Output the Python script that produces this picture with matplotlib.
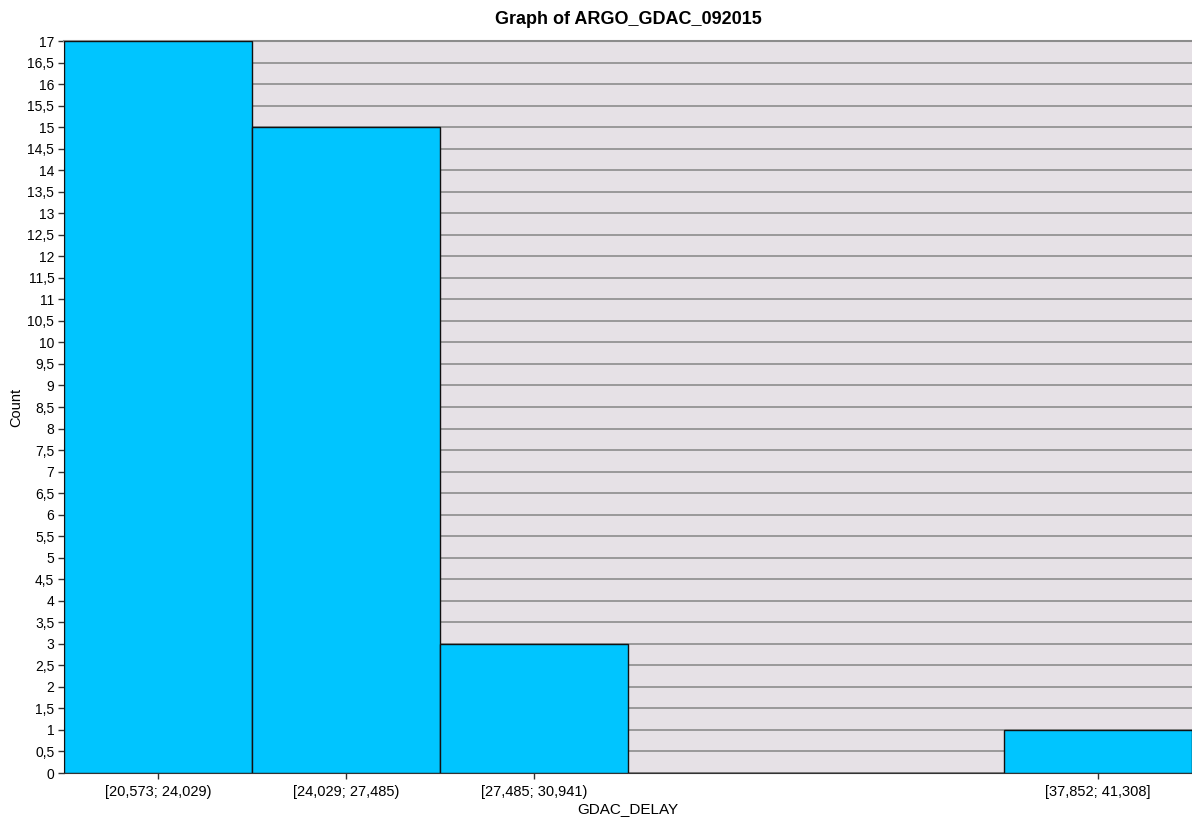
import matplotlib
matplotlib.use("Agg")
import matplotlib.pyplot as plt
import numpy as np

bin_labels = ["[20,573; 24,029)", "[24,029; 27,485)", "[27,485; 30,941)",
              "[30,941; 34,397)", "[34,397; 37,852)", "[37,852; 41,308]"]
counts = [17, 15, 3, 0, 0, 1]
title = "Graph of ARGO_GDAC_092015"
xlabel = "GDAC_DELAY"
ylabel = "Count"

plt.rcParams['font.family'] = ['Liberation Sans', 'DejaVu Sans']

fig = plt.figure(figsize=(11.92, 8.21), dpi=100)
ax = fig.add_axes([64/1192, 1-773/821, 1-64/1192, (773-41)/821])
ax.set_facecolor("#E6E1E6")

x = np.arange(len(counts))
ax.set_axisbelow(True)
ax.yaxis.grid(True, color="#8C8C8C", linewidth=1.2)
ax.bar(x, counts, width=1.0, color="#00C5FF", edgecolor="#111111", linewidth=1.0, zorder=3)

ax.set_xlim(-0.5, len(counts)-0.5)
ax.set_ylim(0, 17)
ax.set_yticks(np.arange(0, 17.01, 0.5))
ax.set_yticklabels([("%g" % v).replace(".", ",") for v in np.arange(0, 17.01, 0.5)], fontsize=10)
shown = [i for i, c in enumerate(counts) if c > 0]
ax.set_xticks(shown)
ax.set_xticklabels([bin_labels[i] for i in shown], fontsize=10.5)
ax.tick_params(axis='both', length=4, width=1, color="#333333")
ax.tick_params(axis='x', pad=4.5)
ax.tick_params(axis='y', pad=3)

ax.spines["right"].set_visible(False)
ax.spines["top"].set_color("#8C8C8C")
ax.spines["top"].set_linewidth(1.5)
ax.spines["left"].set_color("#333333")
ax.spines["bottom"].set_color("#333333")

ax.set_title(title, fontsize=13, fontweight="bold", pad=12.5)
ax.set_xlabel(xlabel, fontsize=11, labelpad=2)
ax.set_ylabel(ylabel, fontsize=10.5, labelpad=3)

fig.savefig("out.png", dpi=100)
